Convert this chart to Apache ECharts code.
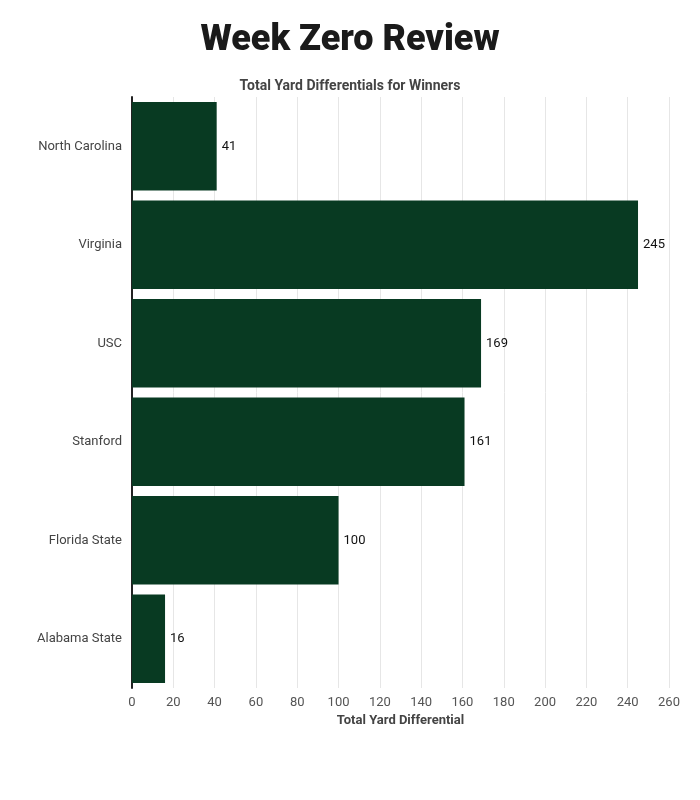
<!DOCTYPE html>
<html>
<head>
<meta charset="utf-8">
<script src="https://cdn.jsdelivr.net/npm/echarts@6/dist/echarts.min.js"></script>
<style>html,body{margin:0;background:#fff}#c{width:700px;height:800px}</style>
</head>
<body>
<div id="c"></div>
<script>
var teams = ["North Carolina", "Virginia", "USC", "Stanford", "Florida State", "Alabama State"];
var diffs = [41, 245, 169, 161, 100, 16];

var chart = echarts.init(document.getElementById("c"));
chart.setOption({
    textStyle: {fontFamily: "Roboto"},
    title: [
        {text: "Week Zero Review", left: "center", top: 18,
         textStyle: {fontSize: 36, fontWeight: 900, color: "#1a1a1a"}},
        {text: "Total Yard Differentials for Winners", left: "center", top: 74,
         textStyle: {fontSize: 14, fontWeight: "bold", color: "#444"}}
    ],
    grid: {left: 132, right: 31, top: 97, bottom: 112},
    xAxis: {
        type: "value", min: 0, max: 260, interval: 20,
        name: "Total Yard Differential", nameLocation: "middle", nameGap: 22,
        nameTextStyle: {fontSize: 13, fontWeight: "bold", color: "#444"},
        axisLabel: {fontSize: 13, color: "#555", margin: 8},
        axisLine: {show: false}, axisTick: {show: false},
        splitLine: {lineStyle: {color: "#e6e6e6"}}
    },
    yAxis: {
        type: "category", data: teams, inverse: true,
        axisLabel: {fontSize: 13, color: "#444", margin: 10},
        axisLine: {lineStyle: {color: "#222", width: 2}},
        axisTick: {show: false}
    },
    series: [{
        type: "bar", data: diffs, barCategoryGap: "10%",
        itemStyle: {color: "#083a22"},
        label: {show: true, position: "right", fontSize: 13, color: "#111", distance: 5}
    }]
});
</script>
</body>
</html>
